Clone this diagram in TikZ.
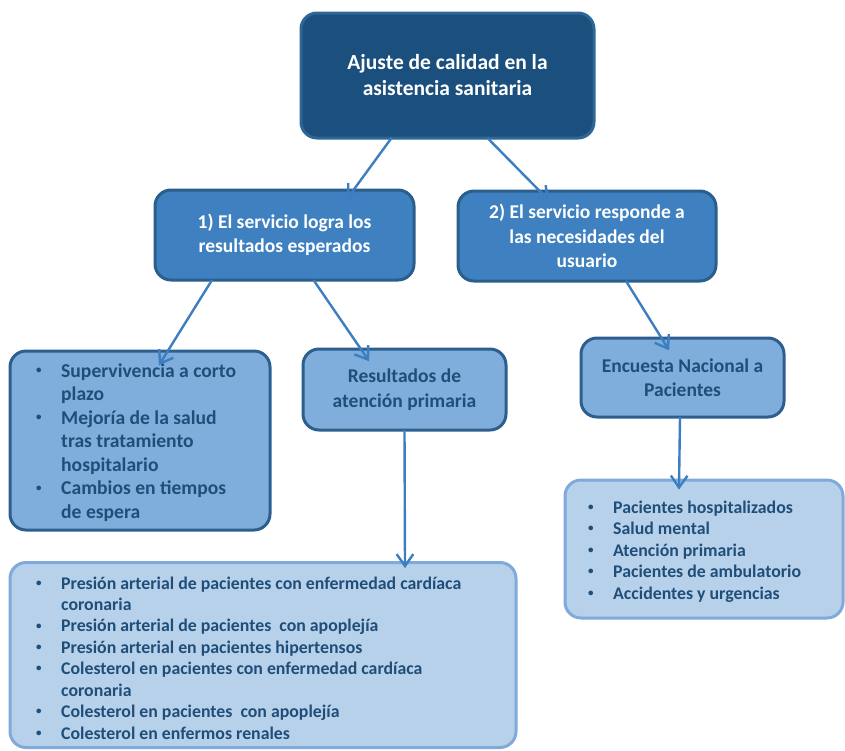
\documentclass[tikz,border=0pt]{standalone}
\usepackage{fontspec}
\setmainfont{Carlito}
\usetikzlibrary{calc}
\definecolor{topfill}{HTML}{1B4F7E}
\definecolor{topline}{HTML}{2E6696}
\definecolor{midfill}{HTML}{3F81C0}
\definecolor{midline}{HTML}{2A5E8C}
\definecolor{lowfill}{HTML}{7FAEDD}
\definecolor{lowline}{HTML}{2C5F8E}
\definecolor{palefill}{HTML}{B8D1EB}
\definecolor{paleline}{HTML}{7FAADA}
\definecolor{textdark}{HTML}{1F4E79}
\definecolor{arrc}{HTML}{3D7EC0}
\newcommand{\smallbul}{\raisebox{0.16em}{\fontsize{11}{11}\selectfont\textbullet}}
\newcommand{\bitem}[2]{\hbox{\makebox[#1][l]{\hspace*{2pt}\smallbul}#2}}
\newcommand{\citem}[2]{\hbox{\hspace*{#1}#2}}
% connector with open V head: #1 start, #2 end
\newcommand{\conn}[2]{%
  \coordinate (ca) at #1;
  \coordinate (cb) at #2;
  \draw[arrline] (ca) -- (cb);
  \draw[arrline, line join=miter]
    let \p1=(ca), \p2=(cb), \n1={atan2(\y1-\y2,\x1-\x2)} in
    ($(\x2,\y2)+(\n1+35:14.5pt)$) -- (\x2,\y2) -- ($(\x2,\y2)+(\n1-35:14.5pt)$);}
\begin{document}
\begin{tikzpicture}[x=1pt,y=-1pt,
  box/.style={rounded corners=16pt, line width=3pt, inner sep=0pt, align=center},
  topbox/.style={box, draw=topline, fill=topfill, text=white, font=\fontsize{21.5}{26}\selectfont\bfseries},
  midbox/.style={box, draw=midline, fill=midfill, text=white, font=\fontsize{19.5}{24.5}\selectfont\bfseries},
  lowbox/.style={box, draw=lowline, fill=lowfill, text=textdark, font=\fontsize{19.5}{24.5}\selectfont\bfseries},
  palebox/.style={box, draw=paleline, fill=palefill},
  listtxt/.style={inner sep=0pt, anchor=base west, text=textdark},
  arrline/.style={draw=arrc, line width=2.4pt}
]
\useasboundingbox (0,0) rectangle (845,750);

% boxes
\node[topbox, minimum width=293pt, minimum height=125pt] (top) at (447.5,75.5) {Ajuste de calidad en la\\asistencia sanitaria};
\node[midbox, minimum width=259pt, minimum height=90pt] (s1) at (284.5,235) {1) El servicio logra los\\resultados esperados};
\node[midbox, minimum width=258pt, minimum height=90pt] (s2) at (587,236) {2) El servicio responde a\\las necesidades del\\usuario};
\node[lowbox, minimum width=260pt, minimum height=179pt] (lb) at (140,440.5) {};
\node[lowbox, minimum width=203pt, minimum height=81pt] (rap) at (404.5,389.5) {Resultados de\\atención primaria};
\node[lowbox, minimum width=203pt, minimum height=79pt] (enc) at (682.5,377.5) {Encuesta Nacional a\\Pacientes};
\node[palebox, minimum width=278pt, minimum height=138pt] (rb) at (704,549) {};
\node[palebox, minimum width=506pt, minimum height=185pt] (bb) at (263,655) {};

% list texts
\node[listtxt, font=\fontsize{19.6}{23.5}\selectfont\bfseries] (lbt) at (34,377) {\vtop{\baselineskip=23.5pt
  \bitem{27pt}{Supervivencia a corto}
  \citem{27pt}{plazo}
  \bitem{27pt}{Mejoría de la salud}
  \citem{27pt}{tras tratamiento}
  \citem{27pt}{hospitalario}
  \bitem{27pt}{Cambios en tiempos}
  \citem{27pt}{de espera}}};
\node[listtxt, font=\fontsize{17.8}{21.4}\selectfont\bfseries] (bbt) at (34,589) {\vtop{\baselineskip=21.45pt
  \bitem{27pt}{Presión arterial de pacientes con enfermedad cardíaca}
  \citem{27pt}{coronaria}
  \bitem{27pt}{Presión arterial de pacientes\ \ con apoplejía}
  \bitem{27pt}{Presión arterial en pacientes hipertensos}
  \bitem{27pt}{Colesterol en pacientes con enfermedad cardíaca}
  \citem{27pt}{coronaria}
  \bitem{27pt}{Colesterol en pacientes\ \ con apoplejía}
  \bitem{27pt}{Colesterol en enfermos renales}}};
\node[listtxt, font=\fontsize{17.8}{21.5}\selectfont\bfseries] (rbt) at (586,513) {\vtop{\baselineskip=21.5pt
  \bitem{27pt}{Pacientes hospitalizados}
  \bitem{27pt}{Salud mental}
  \bitem{27pt}{Atención primaria}
  \bitem{27pt}{Pacientes de ambulatorio}
  \bitem{27pt}{Accidentes y urgencias}}};

% connectors
\conn{([xshift=-56pt,yshift=1.5pt]top.south)}{([xshift=63.5pt,yshift=-9pt]s1.north)}
\conn{([xshift=40pt,yshift=1.5pt]top.south)}{([xshift=-39pt,yshift=-10pt]s2.north)}
\conn{([xshift=-72.5pt,yshift=1.5pt]s1.south)}{([xshift=20pt,yshift=-14pt]lb.north)}
\conn{([xshift=29pt,yshift=1.5pt]s1.south)}{([xshift=-36.5pt,yshift=-12pt]rap.north)}
\conn{([xshift=39pt,yshift=1.5pt]s2.south)}{([xshift=-14.5pt,yshift=-12pt]enc.north)}
\conn{([xshift=-2.5pt,yshift=1.5pt]enc.south)}{([xshift=-25pt,yshift=-9pt]rb.north)}
\conn{([yshift=1.5pt]rap.south)}{([xshift=142pt,yshift=-5pt]bb.north)}
\end{tikzpicture}
\end{document}
